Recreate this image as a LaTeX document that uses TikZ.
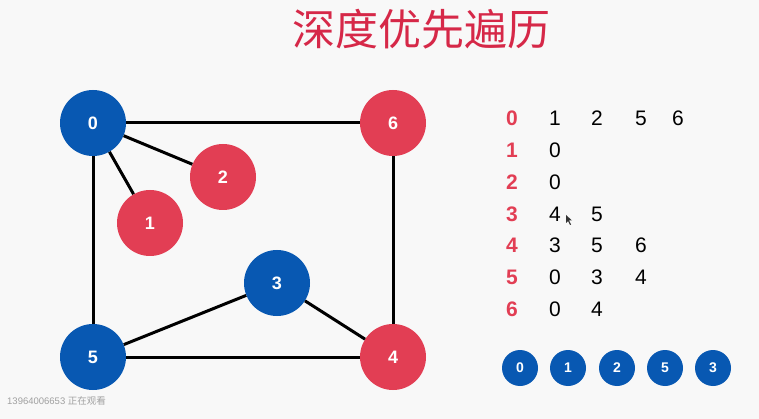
\documentclass[tikz,border=0pt]{standalone}
\usepackage{fontspec}
\setmainfont{Liberation Sans}
\newfontfamily\cjk{Noto Sans CJK SC}
\definecolor{nblue}{RGB}{8,88,178}
\definecolor{nred}{RGB}{226,62,84}
\definecolor{ttl}{RGB}{214,40,72}
\definecolor{bgc}{RGB}{248,248,248}
\definecolor{wm}{RGB}{160,160,160}
\begin{document}
\begin{tikzpicture}[x=1pt,y=-1pt,
  vtx/.style={circle,minimum size=66pt,inner sep=0pt,text=white,font=\fontsize{18}{18}\selectfont\bfseries},
  bv/.style={vtx,fill=nblue},
  rv/.style={vtx,fill=nred},
  edge/.style={line width=3pt,black},
  lbl/.style={text=nred,font=\fontsize{21}{21}\selectfont\bfseries,inner sep=0pt},
  adj/.style={text=black,font=\fontsize{21}{21}\selectfont,inner sep=0pt},
  qv/.style={circle,fill=nblue,minimum size=36pt,inner sep=0pt,text=white,font=\fontsize{14}{14}\selectfont\bfseries}]
\fill[bgc] (0,0) rectangle (759,419);
\useasboundingbox (0,0) rectangle (759,419);
% title
\node[text=ttl,font=\cjk\fontsize{43}{43}\selectfont,inner sep=0pt] (title) at (421,29) {深度优先遍历};
% graph
\node[bv] (n0) at (93,123) {0};
\node[rv] (n6) at (393,123) {6};
\node[rv] (n2) at (223,177) {2};
\node[rv] (n1) at (150,223) {1};
\node[bv] (n3) at (277,283) {3};
\node[bv] (n5) at (93,357) {5};
\node[rv] (n4) at (393,357) {4};
\draw[edge] (n0) -- (n6);
\draw[edge] (n0) -- (n2);
\draw[edge] (n0) -- (n1);
\draw[edge] (n0) -- (n5);
\draw[edge] (n6) -- (n4);
\draw[edge] (n5) -- (n3);
\draw[edge] (n3) -- (n4);
\draw[edge] (n5) -- (n4);
% adjacency list
\node[lbl] (l0) at (512,118) {0};
\node[lbl] (l1) at (512,150) {1};
\node[lbl] (l2) at (512,182) {2};
\node[lbl] (l3) at (512,214) {3};
\node[lbl] (l4) at (512,245) {4};
\node[lbl] (l5) at (512,277) {5};
\node[lbl] (l6) at (512,309) {6};
\node[adj] (a01) at (555,118) {1};
\node[adj] (a02) at (597,118) {2};
\node[adj] (a03) at (641,118) {5};
\node[adj] (a04) at (678,118) {6};
\node[adj] (a11) at (555,150) {0};
\node[adj] (a21) at (555,182) {0};
\node[adj] (a31) at (555,214) {4};
\node[adj] (a32) at (597,214) {5};
\node[adj] (a41) at (555,245) {3};
\node[adj] (a42) at (597,245) {5};
\node[adj] (a43) at (641,245) {6};
\node[adj] (a51) at (555,277) {0};
\node[adj] (a52) at (597,277) {3};
\node[adj] (a53) at (641,277) {4};
\node[adj] (a61) at (555,309) {0};
\node[adj] (a62) at (597,309) {4};
% cursor
\fill[black!80] (566,215) -- (566,223) -- (568,221) -- (570,225) -- (571,224.5) -- (569,220.5) -- (572,220.5) -- cycle;
% visit order
\node[qv] (q0) at (520,368) {0};
\node[qv] (q1) at (568,368) {1};
\node[qv] (q2) at (617,368) {2};
\node[qv] (q3) at (665,368) {5};
\node[qv] (q4) at (713,368) {3};
% watermark
\node[anchor=west,text=wm,font=\fontsize{9.5}{10}\selectfont,inner sep=0pt] (wmark) at (7,401) {13964006653 {\cjk 正在观看}};
\end{tikzpicture}
\end{document}
